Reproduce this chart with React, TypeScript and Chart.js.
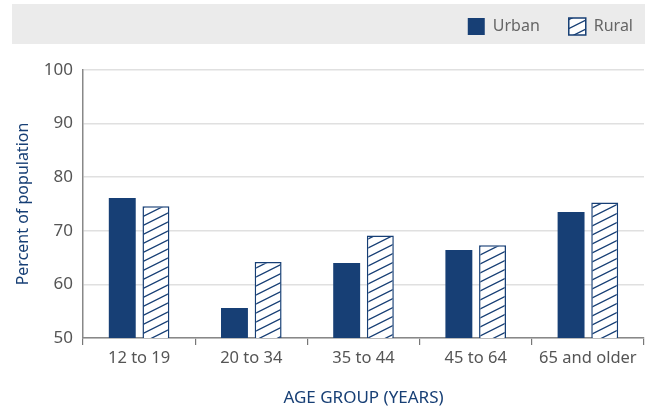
import React, { useEffect, useRef } from "react";
import { Chart, registerables } from "chart.js";

Chart.register(...registerables);

const categories = ["12 to 19", "20 to 34", "35 to 44", "45 to 64", "65 and older"];
const urbanValues = [76.1, 55.6, 64.0, 66.4, 73.5];
const ruralValues = [74.6, 64.2, 69.1, 67.3, 75.3];
const seriesNames = ["Urban", "Rural"];
const yTitle = "Percent of population";
const xTitle = "AGE GROUP (YEARS)";

const BLUE = "#173f75";
const FONT = "'Noto Sans', sans-serif";

function makeHatch(): CanvasPattern | string {
  const c = document.createElement("canvas");
  const w = 18;
  const h = 9;
  c.width = w;
  c.height = h;
  const ctx = c.getContext("2d");
  if (!ctx) return "#fff";
  ctx.fillStyle = "#ffffff";
  ctx.fillRect(0, 0, w, h);
  ctx.strokeStyle = BLUE;
  ctx.lineWidth = 1.3;
  ctx.beginPath();
  ctx.moveTo(-w, h * 2);
  ctx.lineTo(w * 2, -h);
  ctx.moveTo(-w * 2, h * 2);
  ctx.lineTo(w, -h);
  ctx.moveTo(0, h * 2);
  ctx.lineTo(w * 3, -h);
  ctx.stroke();
  const p = ctx.createPattern(c, "repeat");
  return p || "#fff";
}

const bandPlugin = {
  id: "legendBand",
  beforeInit(chart: any) {
    const lg = chart.legend;
    if (!lg) return;
    const origFit = lg.fit.bind(lg);
    lg.fit = function () {
      origFit();
      this.height = 70;
    };
    const origDraw = lg.draw.bind(lg);
    lg.draw = function (...args: any[]) {
      const ctx = chart.ctx;
      ctx.save();
      ctx.translate(18, -11);
      origDraw(...args);
      ctx.restore();
    };
  },
  beforeDraw(chart: any) {
    const { ctx, width } = chart;
    ctx.save();
    ctx.fillStyle = "#ebebeb";
    ctx.fillRect(12, 4, width - 12, 40);
    ctx.restore();
  },
};

export default function App() {
  const ref = useRef<HTMLCanvasElement | null>(null);
  useEffect(() => {
    document.body.style.margin = "0";
    if (!ref.current) return;
    const hatch = makeHatch();
    const chart = new Chart(ref.current, {
      type: "bar",
      data: {
        labels: categories,
        datasets: [
          {
            label: seriesNames[0],
            data: urbanValues,
            backgroundColor: BLUE,
            borderWidth: 0,
            categoryPercentage: 0.6,
            barPercentage: 0.8,
          },
          {
            label: seriesNames[1],
            data: ruralValues,
            backgroundColor: hatch as any,
            borderColor: BLUE,
            borderWidth: 1.5,
            categoryPercentage: 0.6,
            barPercentage: 0.8,
          },
        ],
      },
      options: {
        animation: false,
        responsive: false,
        maintainAspectRatio: false,
        layout: { padding: { left: 8, right: 1, top: 0, bottom: 0 } },
        plugins: {
          tooltip: { enabled: false },
          legend: {
            position: "top",
            align: "end",
            labels: {
              boxWidth: 17,
              boxHeight: 17,
              padding: 29,
              color: "#666",
              font: { family: FONT, size: 16 },
              useBorderRadius: false,
            },
          },
        },
        scales: {
          x: {
            offset: true,
            grid: {
              display: true,
              drawOnChartArea: false,
              offset: true,
              tickLength: 7,
              color: "#777",
              lineWidth: 1.2,
            },
            border: { color: "#888", width: 1.5 },
            ticks: { color: "#555", font: { family: FONT, size: 16.5 }, padding: 3 },
            title: {
              display: true,
              text: xTitle,
              color: BLUE,
              font: { family: FONT, size: 17 },
              padding: { top: 14, bottom: 0 },
            },
            afterFit(scale: any) {
              scale.height = 70;
            },
          },
          y: {
            min: 50,
            max: 100,
            ticks: {
              stepSize: 10,
              color: "#555",
              font: { family: FONT, size: 17 },
              padding: 10,
            },
            grid: { color: "#e0e0e0", lineWidth: 1.5, drawTicks: false },
            border: { color: "#888", width: 1.5 },
            title: {
              display: true,
              text: yTitle,
              color: BLUE,
              font: { family: FONT, size: 16 },
              padding: { top: 6, bottom: 8 },
            },
            afterFit(scale: any) {
              scale.width = 75;
            },
          },
        },
      },
      plugins: [bandPlugin],
    });
    return () => chart.destroy();
  }, []);
  return (
    <div style={{ width: 645, height: 408 }}>
      <canvas ref={ref} width={645} height={408} style={{ display: "block" }} />
    </div>
  );
}
